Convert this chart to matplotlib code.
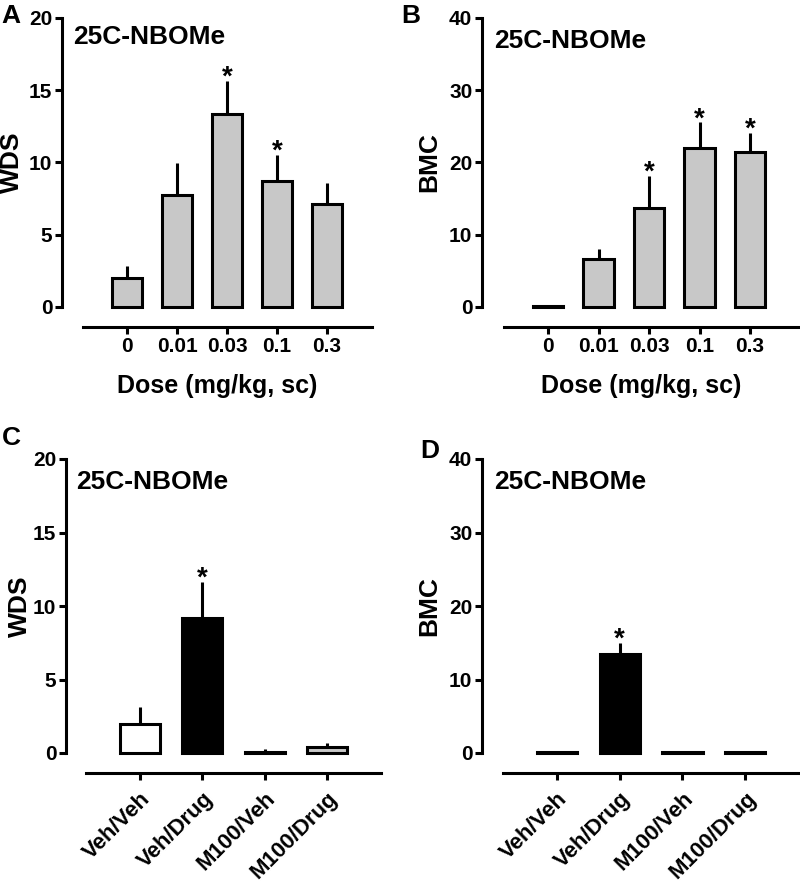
import matplotlib
matplotlib.use("Agg")
import matplotlib.pyplot as plt
import numpy as np

plt.rcParams['font.family'] = ['Liberation Sans', 'DejaVu Sans']
plt.rcParams['font.weight'] = 'bold'

# ---- data ----
dose_labels = ["0", "0.01", "0.03", "0.1", "0.3"]
wds_dose = [2.0, 7.75, 13.35, 8.75, 7.1]
wds_dose_err = [0.85, 2.2, 2.3, 1.8, 1.45]
wds_dose_sig = [False, False, True, True, False]
bmc_dose = [0.2, 6.7, 13.7, 22.05, 21.4]
bmc_dose_err = [0.0, 1.3, 4.5, 3.55, 2.7]
bmc_dose_sig = [False, False, True, True, True]

group_labels = ["Veh/Veh", "Veh/Drug", "M100/Veh", "M100/Drug"]
group_colors = ["white", "black", "white", "#c8c8c8"]
wds_grp = [2.0, 9.15, 0.1, 0.38]
wds_grp_err = [1.15, 2.5, 0.15, 0.32]
wds_grp_sig = [False, True, False, False]
bmc_grp = [0.2, 13.5, 0.2, 0.2]
bmc_grp_err = [0.0, 1.5, 0.0, 0.1]
bmc_grp_sig = [False, True, False, False]

W, H = 800, 883
fig = plt.figure(figsize=(W / 100, H / 100), dpi=100)

TICK_FS = 15
ROT_FS = 16
YLAB_FS = 19
TITLE_FS = 19
LETTER_FS = 19


def make_ax(x_axis, y_top, y_zero, x_right):
    ax = fig.add_axes([x_axis / W, (H - y_zero) / H,
                       (x_right - x_axis) / W, (y_zero - y_top) / H])
    ax._px = (x_axis, y_top, y_zero, x_right)
    return ax


def style(ax, ymax, ystep, xlim, xbound_left, ncat, ticklabels, rot):
    ax.set_ylim(0, ymax)
    ax.set_xlim(*xlim)
    ax.set_yticks(np.arange(0, ymax + 0.1, ystep))
    for s in ['top', 'right']:
        ax.spines[s].set_visible(False)
    ax.spines['left'].set_linewidth(2.2)
    ax.spines['bottom'].set_linewidth(2.2)
    ax.spines['bottom'].set_position(('outward', 14.5))
    ax.spines['bottom'].set_bounds(xbound_left, xlim[1])
    ax.tick_params(axis='both', direction='out', length=5, width=2.2,
                   labelsize=TICK_FS, pad=2)
    ax.set_xticks(range(ncat))
    if rot:
        ax.tick_params(axis='x', pad=6)
        ax.set_xticklabels(ticklabels, rotation=45, ha='right',
                           rotation_mode='anchor', fontsize=ROT_FS,
                           fontweight='bold')
    else:
        ax.set_xticklabels(ticklabels, fontsize=TICK_FS, fontweight='bold')
    for lab in ax.get_yticklabels():
        lab.set_fontweight('bold')


def set_ylabel_px(ax, text, xpx_right):
    x_axis, y_top, y_zero, x_right = ax._px
    ax.set_ylabel(text, fontsize=YLAB_FS, fontweight='bold')
    ax.yaxis.set_label_coords((xpx_right - x_axis) / (x_right - x_axis), 0.5)


def draw_bars(ax, vals, errs, sigs, colors, width):
    x = np.arange(len(vals))
    ax.bar(x, vals, width=width, color=colors, edgecolor='black',
           linewidth=2.2, clip_on=False, zorder=3)
    ax.errorbar(x, vals, yerr=[np.zeros(len(vals)), errs], fmt='none',
                ecolor='black', elinewidth=2.2, capsize=0, zorder=2,
                clip_on=False)
    for xi, v, e, s in zip(x, vals, errs, sigs):
        if s:
            ax.annotate("*", xy=(xi, v + e), xytext=(0, -3),
                        textcoords='offset points', ha='center',
                        va='baseline', fontsize=20, fontweight='bold')


# Panel A
axA = make_ax(62, 18, 307, 372)
style(axA, 20, 5, (-1.3, 4.9), -0.88, 5, dose_labels, False)
draw_bars(axA, wds_dose, wds_dose_err, wds_dose_sig, ["#c8c8c8"] * 5, 0.6)
set_ylabel_px(axA, "WDS", 24)
axA.set_xlabel("Dose (mg/kg, sc)", fontsize=18, fontweight='bold', labelpad=13)

# Panel B
axB = make_ax(482, 18, 307, 800)
style(axB, 40, 10, (-1.31, 4.99), -0.87, 5, dose_labels, False)
draw_bars(axB, bmc_dose, bmc_dose_err, bmc_dose_sig, ["#c8c8c8"] * 5, 0.6)
set_ylabel_px(axB, "BMC", 441)
axB.set_xlabel("Dose (mg/kg, sc)", fontsize=18, fontweight='bold', labelpad=13)

# Panel C
axC = make_ax(66, 459, 753, 381)
style(axC, 20, 5, (-1.19, 3.87), -0.87, 4, group_labels, True)
draw_bars(axC, wds_grp, wds_grp_err, wds_grp_sig, group_colors, 0.64)
set_ylabel_px(axC, "WDS", 32)

# Panel D
axD = make_ax(482, 459, 753, 800)
style(axD, 40, 10, (-1.19, 3.87), -0.86, 4, group_labels, True)
draw_bars(axD, bmc_grp, bmc_grp_err, bmc_grp_sig, group_colors, 0.64)
set_ylabel_px(axD, "BMC", 441)


def ftext(xp, yp, s, size, **kw):
    fig.text(xp / W, 1 - yp / H, s, fontsize=size, fontweight='bold',
             va='center', **kw)


ftext(1, 16, "A", LETTER_FS)
ftext(401, 16, "B", LETTER_FS)
ftext(2, 438, "C", LETTER_FS)
ftext(420, 451, "D", LETTER_FS)
ftext(73, 37, "25C-NBOMe", TITLE_FS)
ftext(494, 41, "25C-NBOMe", TITLE_FS)
ftext(76, 482, "25C-NBOMe", TITLE_FS)
ftext(494, 482, "25C-NBOMe", TITLE_FS)

fig.savefig("out.png", dpi=100)
